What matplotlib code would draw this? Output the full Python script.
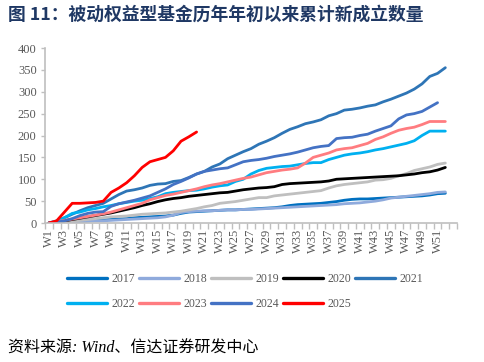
import numpy as np
import matplotlib
matplotlib.use("Agg")
import matplotlib.pyplot as plt
from matplotlib.ticker import FixedLocator

weeks = [f"W{i}" for i in range(1, 54)]

y2017 = [0,1,2,3,4,5,6,7,8,9,10,12,13,14,15,16,18,22,25,26,27,28,29,30,30,31,32,33,34,35,37,40,42,43,44,45,47,49,52,54,55,55,56,57,58,59,60,61,62,64,67,68]
y2018 = [0,0,1,2,3,4,5,5,6,7,8,9,10,11,12,14,18,24,26,27,28,28,29,30,30,31,31,32,33,34,35,36,37,38,39,40,41,42,44,45,46,48,50,53,57,59,61,63,65,67,70,71]
y2019 = [0,1,2,4,6,8,10,12,14,15,16,18,20,21,22,23,25,27,30,33,37,40,45,47,49,52,55,58,58,62,64,66,68,70,72,74,80,85,88,90,92,94,98,99,102,108,113,120,124,128,134,137]
y2020 = [0,2,5,8,11,14,17,20,23,27,31,35,40,44,49,53,56,58,61,63,65,67,69,70,73,76,78,80,81,83,88,90,91,92,93,94,96,100,101,102,103,104,105,106,107,108,110,112,115,117,121,127]
y2021 = [0,4,12,20,28,35,40,45,55,65,73,76,80,86,89,90,95,97,104,112,118,128,135,147,155,163,170,180,187,195,205,214,220,227,231,236,245,250,258,260,263,267,270,277,283,290,297,306,318,335,342,355]
y2022 = [0,5,12,22,25,30,33,37,40,44,47,50,52,56,60,67,70,72,74,75,78,82,85,87,95,100,112,120,125,127,129,130,133,136,138,138,145,150,155,158,160,163,167,170,174,178,182,188,200,210,210,210]
y2023 = [0,3,6,9,12,15,18,21,25,30,35,40,45,53,58,63,66,70,74,78,83,87,90,94,98,102,105,110,115,118,121,123,126,137,150,155,160,167,170,172,177,182,191,197,205,212,216,219,225,232,232,232]
y2024 = [0,2,5,10,17,22,25,26,38,44,48,52,57,62,70,78,88,95,103,112,118,121,124,126,133,140,143,145,148,152,155,158,162,167,172,175,177,193,195,196,200,203,210,216,222,238,247,250,255,265,275]
y2025 = [0,5,25,45,45,46,47,50,70,80,92,108,127,140,145,150,165,187,197,208]

years = ["2017", "2018", "2019", "2020", "2021", "2022", "2023", "2024", "2025"]
series = [y2017, y2018, y2019, y2020, y2021, y2022, y2023, y2024, y2025]
colors = ["#0070C0", "#8FAADC", "#BFBFBF", "#000000", "#2E75B6",
          "#00B0F0", "#FF7C80", "#4472C4", "#FF0000"]

plt.rcParams['font.family'] = ['Liberation Serif', 'Noto Sans CJK SC']

fig = plt.figure(figsize=(4.85, 3.62), dpi=100)
ax = fig.add_axes([45/485, 1-223/362, (457-45)/485, (223-48)/362])

x_all = np.arange(len(weeks))
lines = {}
for yr, s, c in zip(years, series, colors):
    ln, = ax.plot(x_all[:len(s)], s, color=c, lw=2.0, solid_capstyle='round',
                  solid_joinstyle='round')
    lines[yr] = ln

ax.set_xlim(-0.5, len(weeks) - 0.5)
ax.set_ylim(0, 400)
ax.set_yticks(np.arange(0, 401, 50))
ax.tick_params(axis='y', labelsize=9, colors='#595959', length=3, width=1,
               direction='out', pad=3)
ax.tick_params(axis='y', which='major', color='#BFBFBF')

lab_idx = list(range(0, 51, 2))
ax.xaxis.set_major_locator(FixedLocator(lab_idx))
ax.set_xticklabels([weeks[i] for i in lab_idx], rotation=90)
ax.xaxis.set_minor_locator(FixedLocator(np.arange(-0.5, len(weeks), 1.0)))
ax.tick_params(axis='x', which='major', length=0, labelsize=9,
               labelcolor='#595959', pad=4)
ax.tick_params(axis='x', which='minor', length=4, width=1, color='#BFBFBF',
               direction='out')

for sp in ['top', 'right']:
    ax.spines[sp].set_visible(False)
for sp in ['left', 'bottom']:
    ax.spines[sp].set_color('#BFBFBF')
    ax.spines[sp].set_linewidth(1.2)

order = ["2017", "2022", "2018", "2023", "2019", "2024", "2020", "2025", "2021"]
leg = fig.legend([lines[o] for o in order], order, ncol=5,
                 loc='center', bbox_to_anchor=(245/485, 1-291.5/362),
                 frameon=False, fontsize=8.5, handlelength=3.4,
                 handletextpad=0.33, columnspacing=0.37, labelspacing=1.05)
for t in leg.get_texts():
    t.set_color('#595959')
for h in leg.legend_handles:
    h.set_linewidth(2.4)

fig.text(8/485, 1-15/362, "图 11：被动权益型基金历年年初以来累计新成立数量",
         fontsize=12.8, fontweight='bold', color='#1F3864',
         family=['Noto Sans CJK SC', 'DejaVu Sans'], va='center', ha='left')

fig.text(8/485, 1-349/362, "资料来源: Wind、信达证券研发中心",
         fontsize=11.5, style='italic', color='#000000',
         family=['Liberation Serif', 'Noto Sans CJK SC'], va='center', ha='left')

fig.savefig("out.png", dpi=100)
